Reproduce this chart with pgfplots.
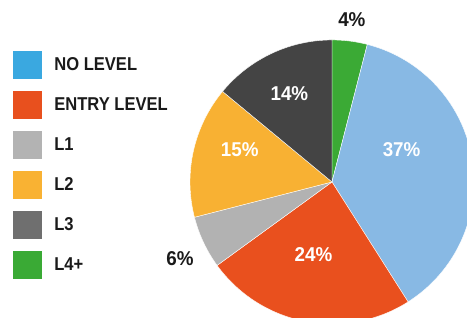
\documentclass[border=0pt]{standalone}
\usepackage{fontspec}
\setmainfont{Liberation Sans}
\newfontfamily\legfont[FakeStretch=0.89]{Liberation Sans}
\newfontfamily\pctfont[FakeStretch=0.94]{Liberation Sans}
\usepackage{pgfplots}
\pgfplotsset{compat=1.18}
\definecolor{pblue}{HTML}{88B9E4}
\definecolor{porange}{HTML}{E9501E}
\definecolor{pgray}{HTML}{B2B2B2}
\definecolor{pyellow}{HTML}{F8B133}
\definecolor{pdark}{HTML}{444444}
\definecolor{pgreen}{HTML}{3BAA35}
\definecolor{lblue}{HTML}{3AA8E0}
\definecolor{lorange}{HTML}{E8501E}
\definecolor{lgray}{HTML}{B3B3B3}
\definecolor{lyellow}{HTML}{F9B233}
\definecolor{ldark}{HTML}{6F6F6F}
\definecolor{lgreen}{HTML}{3AAA35}
\definecolor{txt}{HTML}{1A1A1A}
\def\s{90}
\newcommand\slice[2]{%
  \pgfmathsetmacro\e{\s-3.6*#1}%
  \edef\temp{\noexpand\addplot[fill=#2, draw=white, line width=0.4pt, forget plot, domain=\e:\s, samples=90] ({cos(x)},{sin(x)}) -- (axis cs:0,0) -- cycle;}%
  \temp
  \global\let\s\e}
\begin{document}
\begin{tikzpicture}
\begin{axis}[
  at={(0,0)}, anchor=south west,
  x=142pt, y=142pt,
  xmin=-2.338, xmax=0.951, ymin=-0.958, ymax=1.282,
  hide axis, clip=true,
  legend image code/.code={\fill[#1] (0pt,-14pt) rectangle (29pt,14pt);},
  legend cell align=left,
  legend style={at={(axis cs:-2.244,0.9225)}, anchor=north west, draw=none, fill=none,
    font={\legfont\bfseries\fontsize{18.6pt}{20pt}\selectfont}, text=txt,
    row sep=12pt, column sep=12pt, inner sep=0pt, outer sep=0pt,
    nodes={inner sep=0pt}},
]
% percentages, clockwise from 12 o'clock: L4+, NO LEVEL, ENTRY LEVEL, L1, L2, L3
\slice{4}{pgreen}
\slice{37}{pblue}
\slice{24}{porange}
\slice{6}{pgray}
\slice{15}{pyellow}
\slice{14}{pdark}
\addlegendimage{fill=lblue, draw=none}
\addlegendimage{fill=lorange, draw=none}
\addlegendimage{fill=lgray, draw=none}
\addlegendimage{fill=lyellow, draw=none}
\addlegendimage{fill=ldark, draw=none}
\addlegendimage{fill=lgreen, draw=none}
\legend{NO LEVEL, ENTRY LEVEL, L1, L2, L3, L4+}
\node[font={\pctfont\bfseries\fontsize{20pt}{21pt}\selectfont}, text=white] at (axis cs:0.49,0.225) {37\%};
\node[font={\pctfont\bfseries\fontsize{20pt}{21pt}\selectfont}, text=white] at (axis cs:-0.13,-0.51) {24\%};
\node[font={\pctfont\bfseries\fontsize{20pt}{21pt}\selectfont}, text=white] at (axis cs:-0.65,0.225) {15\%};
\node[font={\pctfont\bfseries\fontsize{20pt}{21pt}\selectfont}, text=white] at (axis cs:-0.30,0.62) {14\%};
\node[font={\pctfont\bfseries\fontsize{20pt}{21pt}\selectfont}, text=txt] at (axis cs:0.14,1.14) {4\%};
\node[font={\pctfont\bfseries\fontsize{20pt}{21pt}\selectfont}, text=txt] at (axis cs:-1.07,-0.54) {6\%};
\end{axis}
\pgfresetboundingbox
\useasboundingbox (0,0) rectangle (467pt,318pt);
\end{tikzpicture}
\end{document}
